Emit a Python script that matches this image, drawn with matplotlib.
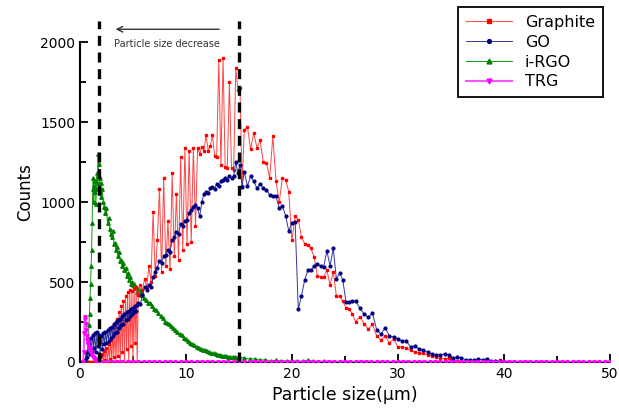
import numpy as np
import matplotlib
matplotlib.use("Agg")
import matplotlib.pyplot as plt

# ---- data ----
# shared size grid for Graphite and GO (um)
size_x = [
    0.5, 0.6, 0.7, 0.8, 0.9, 1.0, 1.1, 1.2, 1.3, 1.4,
    1.5, 1.6, 1.7, 1.8, 1.9, 2.0, 2.1, 2.2, 2.3, 2.4,
    2.5, 2.6, 2.7, 2.8, 2.9, 3.0, 3.1, 3.2, 3.3, 3.4,
    3.5, 3.6, 3.7, 3.8, 3.9, 4.0, 4.1, 4.2, 4.3, 4.4,
    4.5, 4.6, 4.7, 4.8, 4.9, 5.0, 5.1, 5.2, 5.3, 5.4,
    5.5, 5.7, 5.9, 6.1, 6.3, 6.5, 6.7, 6.9, 7.1, 7.3,
    7.5, 7.7, 7.9, 8.1, 8.3, 8.5, 8.7, 8.9, 9.1, 9.3,
    9.5, 9.7, 9.9, 10.1, 10.3, 10.5, 10.7, 10.9, 11.1, 11.3,
    11.5, 11.7, 11.9, 12.1, 12.3, 12.5, 12.7, 12.9, 13.1, 13.3,
    13.5, 13.7, 13.9, 14.1, 14.3, 14.5, 14.7, 14.9, 15.1, 15.3,
    15.5, 15.8, 16.1, 16.4, 16.7, 17.0, 17.3, 17.6, 17.9, 18.2,
    18.5, 18.8, 19.1, 19.4, 19.7, 20.0, 20.3, 20.6, 20.9, 21.2,
    21.5, 21.8, 22.1, 22.4, 22.7, 23.0, 23.3, 23.6, 23.9, 24.2,
    24.5, 24.8, 25.1, 25.4, 25.7, 26.0, 26.4, 26.8, 27.2, 27.6,
    28.0, 28.4, 28.8, 29.2, 29.6, 30.0, 30.4, 30.8, 31.2, 31.6,
    32.0, 32.4, 32.8, 33.2, 33.6, 34.0, 34.4, 34.8, 35.2, 35.6,
    36.0, 36.4, 36.8, 37.2, 37.6, 38.0, 38.4, 38.8, 39.2, 39.6,
    40.0, 41.0, 42.0, 43.0, 44.0, 45.0, 46.0, 47.0, 48.0, 49.0,
    50.0,
]

graphite = [
    0, 0, 0, 0, 0, 0, 0, 0, 0, 0,
    15, 0, 25, 0, 40, 5, 50, 0, 70, 10,
    90, 0, 110, 20, 140, 0, 180, 30, 220, 0,
    270, 40, 310, 0, 350, 60, 380, 0, 410, 80,
    435, 0, 450, 100, 445, 0, 460, 120, 470, 0,
    420, 480, 450, 520, 470, 600, 500, 940, 540, 760,
    1080, 560, 1150, 600, 880, 580, 1180, 660, 1050, 640,
    1280, 700, 1340, 740, 1320, 750, 1340, 850, 1335, 1300,
    1345, 1320, 1420, 1320, 1350, 1420, 1290, 1280, 1890, 1230,
    1900, 1220, 1210, 1750, 1210, 1200, 1835, 1700, 1710, 1100,
    1450, 1470, 1330, 1430, 1340, 1385, 1250, 1245, 1150, 1410,
    1130, 1000, 1150, 1140, 1065, 760, 910, 890, 780, 740,
    730, 710, 655, 540, 530, 530, 575, 480, 565, 410,
    410, 380, 340, 330, 300, 250, 283, 240, 205, 235,
    162, 137, 162, 119, 144, 94, 94, 88, 72, 62,
    55, 54, 45, 38, 34, 28, 19, 25, 12, 8,
    6, 5, 4, 3, 3, 2, 2, 2, 2, 12,
    3, 0, 0, 0, 0, 0, 0, 0, 0, 0,
    0,
]

go = [
    10, 60, 30, 120, 50, 150, 70, 170, 90, 180,
    60, 190, 100, 170, 40, 160, 80, 180, 110, 190,
    120, 200, 130, 210, 150, 220, 160, 240, 180, 250,
    190, 260, 210, 270, 230, 290, 240, 300, 260, 310,
    270, 320, 290, 330, 300, 340, 310, 350, 320, 355,
    370, 360, 420, 470, 450, 480, 470, 530, 560, 590,
    630, 620, 660, 670, 700, 690, 760, 780, 815, 800,
    860, 850, 880, 890, 930, 950, 970, 980, 960, 910,
    1000, 1050, 1060, 1055, 1090, 1095, 1080, 1115, 1100, 1130,
    1140, 1150, 1140, 1160, 1150, 1160, 1250, 1180, 1230, 1095,
    1190, 1100, 1160, 1130, 1085, 1115, 1085, 1075, 1045, 1040,
    1035, 960, 975, 915, 820, 870, 878, 330, 412, 512,
    572, 575, 600, 612, 600, 596, 694, 600, 710, 517,
    558, 512, 377, 377, 383, 380, 340, 300, 280, 306,
    200, 175, 214, 162, 156, 144, 131, 131, 94, 100,
    81, 75, 62, 52, 46, 44, 50, 44, 25, 31,
    25, 14, 12, 12, 19, 15, 19, 6, 6, 6,
    3, 3, 2, 0, 0, 0, 0, 0, 0, 0,
    0,
]

irgo_x = [
    0.5, 0.6, 0.7, 0.8, 0.85, 0.9, 0.95, 1.0, 1.05, 1.1,
    1.15, 1.2, 1.25, 1.3, 1.35, 1.4, 1.45, 1.5, 1.55, 1.6,
    1.65, 1.7, 1.75, 1.8, 1.85, 1.9, 1.95, 2.0, 2.1, 2.2,
    2.3, 2.4, 2.5, 2.6, 2.7, 2.8, 2.9, 3.0, 3.1, 3.2,
    3.3, 3.4, 3.5, 3.6, 3.7, 3.8, 3.9, 4.0, 4.1, 4.2,
    4.3, 4.4, 4.5, 4.6, 4.7, 4.8, 4.9, 5.0, 5.1, 5.2,
    5.3, 5.4, 5.5, 5.6, 5.7, 5.8, 5.9, 6.0, 6.2, 6.4,
    6.6, 6.8, 7.0, 7.2, 7.4, 7.6, 7.8, 8.0, 8.2, 8.4,
    8.6, 8.8, 9.0, 9.2, 9.4, 9.6, 9.8, 10.0, 10.2, 10.4,
    10.6, 10.8, 11.0, 11.2, 11.4, 11.6, 11.8, 12.0, 12.2, 12.4,
    12.6, 12.8, 13.0, 13.2, 13.4, 13.6, 13.8, 14.0, 14.2, 14.4,
    14.6, 14.8, 15.0, 15.5, 16.0, 16.5, 17.0, 17.5, 18.0, 18.5,
    19.0, 19.5, 20.0, 20.5, 21.0, 21.5, 22.0, 22.5, 23.0, 23.5,
    24.0, 24.5, 25.0, 26.0, 27.0, 28.0, 29.0, 30.0, 31.0, 32.0,
    33.0, 34.0, 35.0, 36.0, 37.0, 38.0, 39.0, 40.0, 41.0, 42.0,
    43.0, 44.0, 45.0, 46.0, 47.0, 48.0, 49.0, 50.0,
]

irgo = [
    0, 20, 60, 150, 230, 300, 400, 490, 600, 700,
    870, 1080, 1150, 1000, 1100, 1060, 1130, 990, 1080, 1180,
    1120, 1300, 1240, 1100, 1150, 1060, 1120, 1030, 1080, 1000,
    970, 930, 960, 870, 900, 830, 800, 780, 820, 740,
    745, 700, 720, 660, 690, 630, 640, 600, 620, 575,
    590, 540, 555, 510, 530, 490, 500, 480, 490, 460,
    470, 440, 455, 430, 450, 420, 430, 400, 390, 370,
    367, 350, 330, 325, 305, 290, 275, 250, 245, 238,
    222, 212, 200, 186, 175, 168, 152, 142, 132, 118,
    112, 104, 96, 90, 80, 76, 72, 66, 62, 58,
    55, 50, 46, 44, 40, 38, 35, 33, 31, 30,
    33, 27, 30, 25, 18, 20, 12, 14, 8, 10,
    6, 8, 5, 6, 4, 12, 4, 3, 5, 2,
    3, 2, 2, 2, 1, 2, 1, 2, 1, 1,
    2, 1, 1, 1, 1, 1, 1, 1, 0, 1,
    0, 0, 1, 0, 0, 0, 0, 0,
]

trg_x = [
    0.3, 0.35, 0.4, 0.45, 0.5, 0.55, 0.6, 0.65, 0.7, 0.75,
    0.8, 0.85, 0.9, 0.95, 1.0, 1.1, 1.2, 1.3, 1.4, 1.5,
    1.6, 1.8, 2.0, 2.5, 3.0, 3.5, 4.0, 4.5, 5.0, 5.5,
    6.0, 6.5, 7.0, 7.5, 8.0, 8.5, 9.0, 9.5, 10.0, 10.5,
    11.0, 11.5, 12.0, 12.5, 13.0, 13.5, 14.0, 14.5, 15.0, 15.5,
    16.0, 16.5, 17.0, 17.5, 18.0, 18.5, 19.0, 19.5, 20.0, 20.5,
    21.0, 21.5, 22.0, 22.5, 23.0, 23.5, 24.0, 24.5, 25.0, 25.5,
    26.0, 26.5, 27.0, 27.5, 28.0, 28.5, 29.0, 29.5, 30.0, 30.5,
    31.0, 31.5, 32.0, 32.5, 33.0, 33.5, 34.0, 34.5, 35.0, 35.5,
    36.0, 36.5, 37.0, 37.5, 38.0, 38.5, 39.0, 39.5, 40.0, 40.5,
    41.0, 41.5, 42.0, 42.5, 43.0, 43.5, 44.0, 44.5, 45.0, 45.5,
    46.0, 46.5, 47.0, 47.5, 48.0, 48.5, 49.0, 49.5, 50.0,
]

trg = [
    0, 60, 180, 280, 270, 240, 200, 165, 140, 125,
    110, 95, 85, 70, 60, 45, 30, 22, 15, 10,
    6, 3, 1, 0, 0, 0, 0, 0, 0, 0,
    0, 0, 0, 0, 0, 0, 0, 0, 0, 0,
    0, 0, 0, 0, 0, 0, 0, 0, 0, 0,
    0, 0, 0, 0, 0, 0, 0, 0, 0, 0,
    0, 0, 0, 0, 0, 0, 0, 0, 0, 0,
    0, 0, 0, 0, 0, 0, 0, 0, 0, 0,
    0, 0, 0, 0, 0, 0, 0, 0, 0, 0,
    0, 0, 0, 0, 0, 0, 0, 0, 0, 0,
    0, 0, 0, 0, 0, 0, 0, 0, 0, 0,
    0, 0, 0, 0, 0, 0, 0, 0, 0,
]

guide_lines = [1.8, 15]   # dashed markers (um)
x_ticks = [0, 10, 20, 30, 40, 50]
y_ticks = [0, 500, 1000, 1500, 2000]

# ---- figure ----
fig = plt.figure(figsize=(6.19, 4.12), dpi=100)
ax = fig.add_axes([0.1292, 0.1214, 0.856, 0.827])

ax.plot(size_x, graphite, color="#ff4545", lw=0.7, marker="s", ms=2.0,
        mfc="red", mec="red", label="Graphite", zorder=3)
ax.plot(size_x, go, color="#3535a0", lw=0.7, marker="o", ms=2.0,
        mfc="#000080", mec="#000080", label="GO", zorder=4)
ax.plot(irgo_x, irgo, color="#119911", lw=0.7, marker="^", ms=2.5,
        mfc="#008000", mec="#008000", label="i-RGO", zorder=2)
ax.plot(trg_x, trg, color="#ff55ff", lw=1.5, marker="v", ms=2.5,
        mfc="#ff00ff", mec="#ff00ff", label="TRG", zorder=5)

for gx in guide_lines:
    ax.axvline(gx, color="black", lw=2.4, ls=(0, (3, 2)), zorder=6)

ax.annotate("", xy=(3.1, 2080), xytext=(13.4, 2080),
            arrowprops=dict(arrowstyle="->", color="#333333", lw=1.0))
ax.text(8.2, 1985, "Particle size decrease", fontsize=7, color="#333333",
        ha="center", va="center")

ax.set_xlim(0, 50)
ax.set_ylim(0, 2130)
ax.set_xticks(x_ticks)
ax.set_yticks(y_ticks)
ax.set_xticks([5, 15, 25, 35, 45], minor=True)
ax.set_yticks([250, 750, 1250, 1750], minor=True)
ax.tick_params(which="both", direction="in", width=1.3, labelsize=10)
ax.tick_params(which="major", length=6)
ax.tick_params(which="minor", length=4)

ax.spines["top"].set_visible(False)
ax.spines["right"].set_visible(False)
ax.spines["left"].set_bounds(0, 2000)
ax.spines["left"].set_linewidth(1.5)
ax.spines["bottom"].set_linewidth(1.5)

ax.set_xlabel("Particle size(\u03bcm)", fontsize=12.5)
ax.set_ylabel("Counts", fontsize=12)

leg = ax.legend(loc="upper right", bbox_to_anchor=(0.974, 0.983),
                bbox_transform=fig.transFigure, fontsize=11.5, numpoints=1,
                handlelength=2.9, labelspacing=0.3, borderaxespad=0,
                borderpad=0.5, fancybox=False, framealpha=1,
                edgecolor="black", markerscale=1.4)
leg.get_frame().set_linewidth(1.3)

fig.savefig("out.png", dpi=100)
